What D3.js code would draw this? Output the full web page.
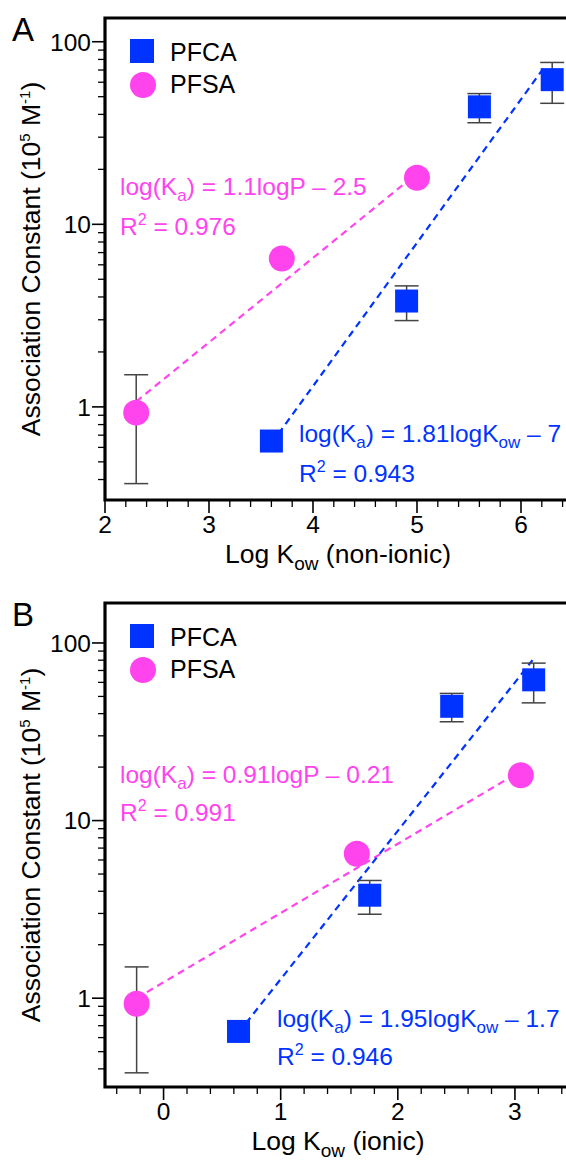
<!DOCTYPE html>
<html><head><meta charset="utf-8">
<script src="https://cdn.jsdelivr.net/npm/d3@7"></script>
<style>
body{margin:0;background:#fff;}
svg{display:block;font-family:"Liberation Sans",Arial,Helvetica,sans-serif;}
</style></head>
<body>
<svg id="chart" width="566" height="1169"></svg>
<script>
// ---- data ----
const pfcaKa     = [0.65, 3.8, 44, 62];
const pfcaLow    = [null, 2.97, 36, 46];
const pfcaHigh   = [null, 4.6, 52, 77];
const pfsaKa     = [0.93, 6.5, 18];
const pfsaLow    = [0.38, null, null];
const pfsaHigh   = [1.5, null, null];

const pfcaLogKowNonIonic = [3.6, 4.9, 5.6, 6.3];
const pfsaLogKowNonIonic = [2.3, 3.7, 5.0];
const pfcaLogKowIonic    = [0.64, 1.76, 2.46, 3.16];
const pfsaLogKowIonic    = [-0.23, 1.65, 3.05];

// fitted lines (endpoints)
const fitA_PFSA = [[2.3, 1.07], [5.0, 19]];
const fitA_PFCA = [[3.6, 0.63], [6.22, 72]];
const fitB_PFSA = [[-0.23, 1.0], [3.05, 19]];
const fitB_PFCA = [[0.64, 0.64], [3.15, 80]];

const xTicksA = [2, 3, 4, 5, 6];
const xTicksB = [0, 1, 2, 3];
const yTicks  = [1, 10, 100];

const eqA_PFSA = ["1.1logP – 2.5", "0.976"];
const eqA_PFCA = ["1.81logK", " – 7", "0.943"];
const eqB_PFSA = ["0.91logP – 0.21", "0.991"];
const eqB_PFCA = ["1.95logK", " – 1.7", "0.946"];

const BLUE = "#0033ff", PINK = "#ff44ee", ERR = "#444";

const svg = d3.select("#chart");

function panel(cfg){
  const g = svg.append("g");
  const x = d3.scaleLinear().domain(cfg.xDomain).range([105, cfg.xRight]);
  const y = d3.scaleLog().domain(cfg.yDomain).range([cfg.bottom, cfg.top]);
  const left = 105;

  // minor y ticks
  const minorY = [];
  for (let d = 0.1; d < 1000; d *= 10) for (let k = 2; k <= 9; k++) {
    const v = d * k; if (v > cfg.yDomain[0] && v < cfg.yDomain[1]) minorY.push(v);
  }
  g.selectAll(".ymin").data(minorY).join("line")
    .attr("x1", left - 7).attr("x2", left).attr("y1", d => y(d)).attr("y2", d => y(d))
    .attr("stroke", "#000").attr("stroke-width", 1.3);
  g.selectAll(".ymaj").data(yTicks).join("line")
    .attr("x1", left - 13).attr("x2", left).attr("y1", d => y(d)).attr("y2", d => y(d))
    .attr("stroke", "#000").attr("stroke-width", 1.6);
  g.selectAll(".ylab").data(yTicks).join("text")
    .attr("x", left - 14).attr("y", d => y(d)).attr("dy", "0.36em")
    .attr("text-anchor", "end").attr("font-size", 24.5).text(d => d);

  // minor x ticks
  const minorX = d3.range(Math.round(cfg.xDomain[0]*5), Math.round(cfg.xDomain[1]*5)+1)
    .map(v => v / 5).filter(v => Math.abs(v - Math.round(v)) > 1e-6 && v > cfg.xDomain[0] && v < cfg.xDomain[1]);
  g.selectAll(".xmin").data(minorX).join("line")
    .attr("x1", d => x(d)).attr("x2", d => x(d)).attr("y1", cfg.bottom).attr("y2", cfg.bottom + 7)
    .attr("stroke", "#000").attr("stroke-width", 1.3);
  g.selectAll(".xmaj").data(cfg.xTicks).join("line")
    .attr("x1", d => x(d)).attr("x2", d => x(d)).attr("y1", cfg.bottom).attr("y2", cfg.bottom + 13)
    .attr("stroke", "#000").attr("stroke-width", 1.6);
  g.selectAll(".xlab").data(cfg.xTicks).join("text")
    .attr("x", d => x(d)).attr("y", cfg.bottom + 33)
    .attr("text-anchor", "middle").attr("font-size", 24.5).text(d => d);

  // frame
  g.append("path")
    .attr("d", `M${x.range()[1]},${cfg.top}H${left}V${cfg.bottom}H${x.range()[1]}`)
    .attr("fill", "none").attr("stroke", "#000").attr("stroke-width", 3.2);

  // fit lines
  const line = d3.line().x(d => x(d[0])).y(d => y(d[1]));
  g.append("path").attr("d", line(cfg.fitPFSA)).attr("fill", "none")
    .attr("stroke", PINK).attr("stroke-width", 2.2).attr("stroke-dasharray", "7,5");
  g.append("path").attr("d", line(cfg.fitPFCA)).attr("fill", "none")
    .attr("stroke", BLUE).attr("stroke-width", 2.2).attr("stroke-dasharray", "7,5");

  // error bars
  function errBars(xs, vals, lo, hi){
    const d = xs.map((xv, i) => ({x: xv, v: vals[i], lo: lo[i], hi: hi[i]})).filter(e => e.lo != null);
    const eg = g.append("g").attr("stroke", ERR).attr("stroke-width", 1.5);
    d.forEach(e => {
      eg.append("line").attr("x1", x(e.x)).attr("x2", x(e.x)).attr("y1", y(e.lo)).attr("y2", y(e.hi));
      eg.append("line").attr("x1", x(e.x) - 12).attr("x2", x(e.x) + 12).attr("y1", y(e.lo)).attr("y2", y(e.lo));
      eg.append("line").attr("x1", x(e.x) - 12).attr("x2", x(e.x) + 12).attr("y1", y(e.hi)).attr("y2", y(e.hi));
    });
  }
  errBars(cfg.pfcaX, pfcaKa, pfcaLow, pfcaHigh);
  errBars(cfg.pfsaX, pfsaKa, pfsaLow, pfsaHigh);

  // points
  const S = 23;
  g.selectAll(".sq").data(cfg.pfcaX.map((xv, i) => [xv, pfcaKa[i]])).join("rect")
    .attr("x", d => x(d[0]) - S/2).attr("y", d => y(d[1]) - S/2)
    .attr("width", S).attr("height", S).attr("fill", BLUE);
  g.selectAll(".ci").data(cfg.pfsaX.map((xv, i) => [xv, pfsaKa[i]])).join("circle")
    .attr("cx", d => x(d[0])).attr("cy", d => y(d[1])).attr("r", 13).attr("fill", PINK);

  // legend
  const ly = cfg.top;
  g.append("rect").attr("x", 130).attr("y", ly + 21).attr("width", 24).attr("height", 24).attr("fill", BLUE);
  g.append("text").attr("x", 170).attr("y", ly + 43).attr("font-size", 25).text("PFCA");
  g.append("circle").attr("cx", 143).attr("cy", ly + 67).attr("r", 13).attr("fill", PINK);
  g.append("text").attr("x", 170).attr("y", ly + 75).attr("font-size", 25).text("PFSA");

  // panel letter
  g.append("text").attr("x", 12).attr("y", cfg.top + 23).attr("font-size", 33).text(cfg.letter);

  // equations
  function eq(xp, yp, color, parts, r2, spacing){
    const t = g.append("text").attr("x", xp).attr("y", yp).attr("fill", color).attr("font-size", 24.5);
    t.append("tspan").text("log(K");
    t.append("tspan").attr("font-size", 17).attr("dy", 6).text("a");
    t.append("tspan").attr("dy", -6).text(") = " + parts[0]);
    if (parts.length > 1) {
      t.append("tspan").attr("font-size", 17).attr("dy", 6).text("ow");
      t.append("tspan").attr("dy", -6).text(parts[1]);
    }
    const t2 = g.append("text").attr("x", xp).attr("y", yp + spacing).attr("fill", color).attr("font-size", 24.5);
    t2.append("tspan").text("R");
    t2.append("tspan").attr("font-size", 16).attr("dy", -10).text("2");
    t2.append("tspan").attr("dy", 10).text(" = " + r2);
  }
  eq(120, cfg.eqPinkY, PINK, [cfg.eqPink[0]], cfg.eqPink[1], cfg.eqSpacing);
  eq(cfg.eqBlueX, cfg.eqBlueY, BLUE, [cfg.eqBlue[0], cfg.eqBlue[1]], cfg.eqBlue[2], cfg.eqSpacing);

  // axis labels
  const xl = g.append("text").attr("x", 338).attr("y", cfg.bottom + 63)
    .attr("text-anchor", "middle").attr("font-size", 26.5);
  xl.append("tspan").text("Log K");
  xl.append("tspan").attr("font-size", 19).attr("dy", 7).text("ow");
  xl.append("tspan").attr("dy", -7).text(" " + cfg.xTitle);

  const cy = (cfg.top + cfg.bottom) / 2;
  const yl = g.append("text").attr("transform", `translate(40,${cy}) rotate(-90)`)
    .attr("text-anchor", "middle").attr("font-size", 26.5);
  yl.append("tspan").text("Association Constant (10");
  yl.append("tspan").attr("font-size", 15).attr("dy", -10).text("5");
  yl.append("tspan").attr("dy", 10).text(" M");
  yl.append("tspan").attr("font-size", 15).attr("dy", -10).text("-1");
  yl.append("tspan").attr("dy", 10).text(")");
}

panel({
  letter: "A", top: 18, bottom: 500, xRight: 573, xDomain: [2, 6.5],
  yDomain: [Math.pow(10, -0.51), Math.pow(10, 2.13)], xTicks: xTicksA,
  pfcaX: pfcaLogKowNonIonic, pfsaX: pfsaLogKowNonIonic,
  fitPFSA: fitA_PFSA, fitPFCA: fitA_PFCA,
  eqPink: eqA_PFSA, eqBlue: eqA_PFCA, eqPinkY: 195, eqBlueX: 299, eqBlueY: 442, eqSpacing: 40,
  xTitle: "(non-ionic)"
});
panel({
  letter: "B", top: 603, bottom: 1087, xRight: 573.5, xDomain: [-0.5, 3.5],
  yDomain: [Math.pow(10, -0.5), Math.pow(10, 2.225)], xTicks: xTicksB,
  pfcaX: pfcaLogKowIonic, pfsaX: pfsaLogKowIonic,
  fitPFSA: fitB_PFSA, fitPFCA: fitB_PFCA,
  eqPink: eqB_PFSA, eqBlue: eqB_PFCA, eqPinkY: 783, eqBlueX: 277, eqBlueY: 1027, eqSpacing: 38,
  xTitle: "(ionic)"
});
</script>
</body></html>
